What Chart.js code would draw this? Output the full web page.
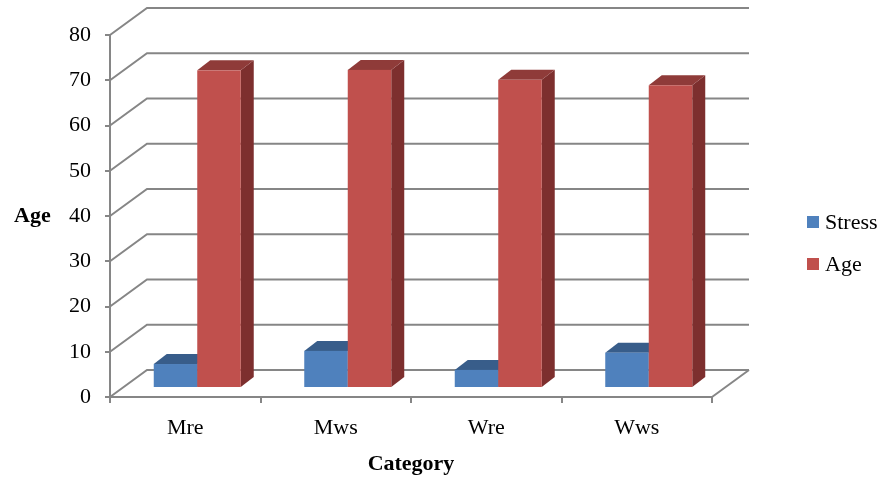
<!DOCTYPE html>
<html>
<head>
<meta charset="utf-8">
<title>Stress and Age by Category</title>
<script src="https://cdn.jsdelivr.net/npm/chart.js@4.4.1/dist/chart.umd.min.js"></script>
<style>
  html, body { margin: 0; padding: 0; background: #fff; }
  #chart { display: block; }
</style>
</head>
<body>
<canvas id="chart" width="884" height="479"></canvas>
<script>
// values
const categories = ['Mre', 'Mws', 'Wre', 'Wws'];
const seriesNames = ['Stress', 'Age'];
const stressValues = [5.3, 8.2, 4.0, 7.8];
const ageValues = [70.2, 70.3, 68.1, 66.9];
const yTicks = [0, 10, 20, 30, 40, 50, 60, 70, 80];

const FONT = '"Liberation Serif", "Times New Roman", serif';
const GRID = '#868686';

// colours of the column faces: front, top, side
const faces = [
  { front: '#4f81bd', top: '#385d8a', side: '#3b6392' },
  { front: '#c0504d', top: '#8f3b39', side: '#7d2f2e' }
];

// oblique depth of the back wall and of the columns
const WALL = { dx: 37, dy: -27 };
const COL_START = { dx: 12, dy: -9 };
const COL_DEPTH = { dx: 13, dy: -10 };

function poly(ctx, color, pts) {
  ctx.fillStyle = color;
  ctx.beginPath();
  ctx.moveTo(pts[0][0], pts[0][1]);
  for (let i = 1; i < pts.length; i++) ctx.lineTo(pts[i][0], pts[i][1]);
  ctx.closePath();
  ctx.fill();
}

// draws the back wall grid, the floor and the 3d columns
const pseudo3d = {
  id: 'pseudo3d',
  beforeDatasetsDraw(chart) {
    const { ctx, chartArea: a } = chart;
    const y = chart.scales.y;
    ctx.save();
    ctx.strokeStyle = GRID;
    ctx.lineWidth = 2;

    // right edge of the floor
    ctx.beginPath();
    ctx.moveTo(a.right, a.bottom);
    ctx.lineTo(a.right + WALL.dx, a.bottom + WALL.dy);
    ctx.stroke();

    // grid lines running back from the axis and along the wall
    yTicks.forEach(v => {
      const py = y.getPixelForValue(v);
      ctx.beginPath();
      ctx.moveTo(a.left, py);
      ctx.lineTo(a.left + WALL.dx, py + WALL.dy);
      ctx.lineTo(a.right + WALL.dx, py + WALL.dy);
      ctx.stroke();
    });

    // columns
    chart.data.datasets.forEach((ds, i) => {
      const meta = chart.getDatasetMeta(i);
      const f = faces[i];
      meta.data.forEach(bar => {
        const p = bar.getProps(['x', 'y', 'base', 'width'], true);
        const x0 = p.x - p.width / 2 + COL_START.dx;
        const x1 = p.x + p.width / 2 + COL_START.dx;
        const y0 = p.y + COL_START.dy;
        const y1 = p.base + COL_START.dy;
        const dx = COL_DEPTH.dx, dy = COL_DEPTH.dy;
        poly(ctx, f.side, [[x1, y0], [x1 + dx, y0 + dy], [x1 + dx, y1 + dy], [x1, y1]]);
        poly(ctx, f.top, [[x0, y0], [x0 + dx, y0 + dy], [x1 + dx, y0 + dy], [x1, y0]]);
        ctx.fillStyle = f.front;
        ctx.fillRect(x0, y0, x1 - x0, y1 - y0);
      });
    });
    ctx.restore();
    return false; // skip the flat bars
  },
  afterDraw(chart) {
    const ctx = chart.ctx;
    const y = chart.scales.y;
    ctx.save();
    // horizontal y axis title
    ctx.fillStyle = '#000';
    ctx.font = `bold 22px ${FONT}`;
    ctx.textBaseline = 'middle';
    ctx.textAlign = 'left';
    ctx.fillText('Age', 14, y.getPixelForValue(40));

    // legend
    ctx.font = `22px ${FONT}`;
    chart.data.datasets.forEach((ds, i) => {
      const cy = 222 + i * 42;
      ctx.fillStyle = ds.backgroundColor;
      ctx.fillRect(807, cy - 6, 12, 12);
      ctx.fillStyle = '#000';
      ctx.fillText(ds.label, 825, cy + 1);
    });
    ctx.restore();
  }
};

const ctx = document.getElementById('chart');
new Chart(ctx, {
  type: 'bar',
  data: {
    labels: categories,
    datasets: [
      { label: seriesNames[0], data: stressValues, backgroundColor: faces[0].front },
      { label: seriesNames[1], data: ageValues, backgroundColor: faces[1].front }
    ]
  },
  options: {
    responsive: false,
    animation: false,
    devicePixelRatio: 1,
    layout: { padding: { left: 0, top: 35, right: 172, bottom: 0 } },
    datasets: { bar: { categoryPercentage: 0.578, barPercentage: 1 } },
    plugins: {
      legend: { display: false },
      tooltip: { enabled: false }
    },
    scales: {
      x: {
        ticks: { padding: 12, color: '#000', font: { family: FONT, size: 22 } },
        grid: { drawOnChartArea: false, tickLength: 6, color: GRID, lineWidth: 2, offset: true },
        border: { color: GRID, width: 2 },
        title: {
          display: true,
          text: 'Category',
          color: '#000',
          font: { family: FONT, size: 22, weight: 'bold' },
          padding: { top: 0, bottom: 1 }
        },
        afterFit(scale) { scale.height = 82; }
      },
      y: {
        min: 0,
        max: 80,
        ticks: { padding: 14, color: '#000', font: { family: FONT, size: 22 } },
        grid: { drawOnChartArea: false, tickLength: 5, color: GRID, lineWidth: 2 },
        border: { color: GRID, width: 2 },
        afterBuildTicks(scale) { scale.ticks = yTicks.map(v => ({ value: v })); },
        afterFit(scale) { scale.width = 110; }
      }
    }
  },
  plugins: [pseudo3d]
});
</script>
</body>
</html>
